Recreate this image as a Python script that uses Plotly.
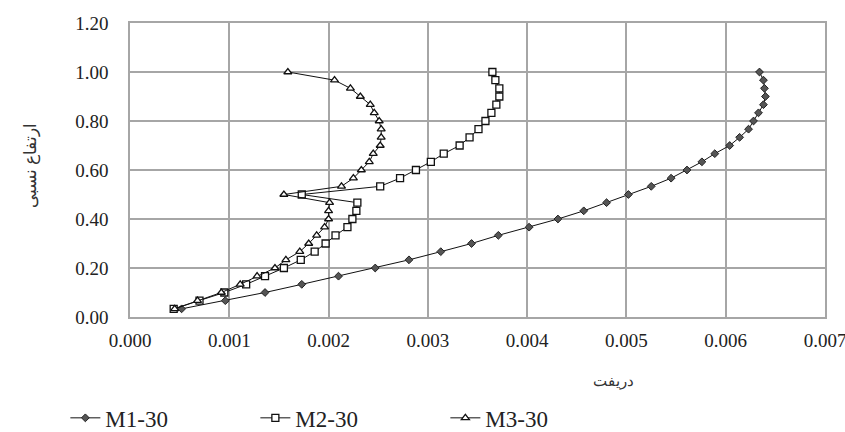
import plotly.graph_objects as go

heights = [i / 30 for i in range(1, 31)]

m1_drift = [0.00052, 0.00096, 0.00136, 0.00173, 0.00210, 0.00247, 0.00281, 0.00313, 0.00344, 0.00371,
            0.00402, 0.00431, 0.00457, 0.00480, 0.00502, 0.00525, 0.00545, 0.00561, 0.00576, 0.00589,
            0.00604, 0.00614, 0.00623, 0.00628, 0.00633, 0.00638, 0.00640, 0.00639, 0.00638, 0.00634]
m2_drift = [0.00044, 0.00070, 0.00095, 0.00117, 0.00136, 0.00155, 0.00172, 0.00186, 0.00197, 0.00207,
            0.00219, 0.00224, 0.00228, 0.00229, 0.00173, 0.00252, 0.00272, 0.00288, 0.00303, 0.00316,
            0.00332, 0.00342, 0.00351, 0.00358, 0.00364, 0.00369, 0.00372, 0.00372, 0.00368, 0.00365]
m3_drift = [0.00045, 0.00068, 0.00092, 0.00111, 0.00128, 0.00146, 0.00157, 0.00171, 0.00180, 0.00188,
            0.00196, 0.00200, 0.00200, 0.00201, 0.00155, 0.00213, 0.00225, 0.00233, 0.00241, 0.00245,
            0.00252, 0.00253, 0.00253, 0.00251, 0.00246, 0.00242, 0.00232, 0.00222, 0.00206, 0.00159]

series_names = ["M1-30", "M2-30", "M3-30"]
x_title = "دریفت"
y_title = "ارتفاع نسبی"

font_family = "Times New Roman"

fig = go.Figure()
fig.add_trace(go.Scatter(
    x=m1_drift, y=heights, name=series_names[0], mode="lines+markers",
    line=dict(color="#111111", width=1),
    marker=dict(symbol="diamond", size=6, color="#555555", line=dict(color="#222222", width=1))))
fig.add_trace(go.Scatter(
    x=m2_drift, y=heights, name=series_names[1], mode="lines+markers",
    line=dict(color="#111111", width=1),
    marker=dict(symbol="square", size=7, color="white", line=dict(color="#111111", width=1.3))))
fig.add_trace(go.Scatter(
    x=m3_drift, y=heights, name=series_names[2], mode="lines+markers",
    line=dict(color="#111111", width=1),
    marker=dict(symbol="triangle-up", size=7, color="white", line=dict(color="#111111", width=1.3))))

grid_color = "#a6a6a6"
fig.update_layout(
    width=845, height=432,
    margin=dict(l=130, r=20, t=23, b=115, autoexpand=False),
    paper_bgcolor="white", plot_bgcolor="white",
    font=dict(family=font_family, size=19, color="#222222"),
    showlegend=True,
    legend=dict(orientation="h", x=-0.093, y=-0.27, xanchor="left", yanchor="top",
                font=dict(family=font_family, size=23, color="#222222"),
                entrywidth=145, entrywidthmode="pixels", bgcolor="rgba(0,0,0,0)"),
    xaxis=dict(range=[0, 0.007], dtick=0.001, tick0=0, tickformat=".3f", automargin=False,
               showgrid=True, gridcolor=grid_color, gridwidth=1.5,
               showline=True, linecolor=grid_color, linewidth=1.5, mirror=True,
               zeroline=False, ticks="", ticklabelstandoff=5, ticklabeloverflow="allow",
               tickfont=dict(family=font_family, size=19)),
    yaxis=dict(range=[0, 1.2], dtick=0.2, tick0=0, tickformat=".2f", automargin=False,
               showgrid=True, gridcolor=grid_color, gridwidth=1.5,
               showline=True, linecolor=grid_color, linewidth=1.5, mirror=True,
               zeroline=False, ticks="", ticklabelstandoff=16, ticklabeloverflow="allow",
               tickfont=dict(family=font_family, size=19)),
)

fig.add_annotation(text=x_title, xref="paper", yref="paper",
                   x=(613 - 130) / 695, y=-(380 - 317) / 294, showarrow=False,
                   xanchor="center", yanchor="middle",
                   font=dict(family="Noto Sans", size=15, color="#333333"))
fig.add_annotation(text=y_title, xref="paper", yref="paper",
                   x=-(130 - 29) / 695, y=(317 - 166) / 294, showarrow=False, textangle=-90,
                   xanchor="center", yanchor="middle",
                   font=dict(family="Noto Sans", size=17, color="#333333"))

fig.write_html("out.html")
